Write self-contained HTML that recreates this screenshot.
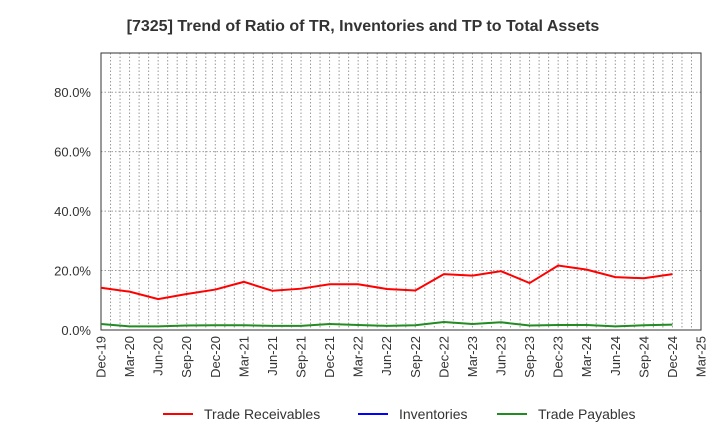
<!DOCTYPE html>
<html><head><meta charset="utf-8"><style>
body{margin:0;background:#fff;font-family:"Liberation Sans",sans-serif}
svg text{font-family:"Liberation Sans",sans-serif}
</style></head><body>
<svg id="c" width="720" height="440">
<text x="363" y="31" text-anchor="middle" font-size="16" font-weight="bold" fill="#333">[7325]  Trend of Ratio of TR, Inventories and TP to Total Assets</text>
</svg>
<script>
const categories=["Dec-19","Mar-20","Jun-20","Sep-20","Dec-20","Mar-21","Jun-21","Sep-21","Dec-21","Mar-22","Jun-22","Sep-22","Dec-22","Mar-23","Jun-23","Sep-23","Dec-23","Mar-24","Jun-24","Sep-24","Dec-24","Mar-25"];
const tradeReceivables=[14.2,12.9,10.4,12.1,13.6,16.2,13.2,13.9,15.4,15.4,13.8,13.3,18.8,18.3,19.8,15.8,21.7,20.3,17.8,17.4,18.8];
const inventories=[];
const tradePayables=[2.0,1.2,1.2,1.5,1.6,1.6,1.4,1.4,2.0,1.7,1.4,1.6,2.7,2.0,2.6,1.5,1.7,1.7,1.2,1.6,1.8];
const yTicks=[0,20,40,60,80];
const yMax=93.2;
const svg=document.getElementById('c');const NS='http://www.w3.org/2000/svg';
const L=101,R=701,T=53,B=330;
const x=i=>L+(R-L)*i/(categories.length-1);
const y=v=>B-(B-T)*v/yMax;
function mk(t,a,p){const e=document.createElementNS(NS,t);for(const k in a)e.setAttribute(k,a[k]);(p||svg).appendChild(e);return e;}
for(let m=1;m<(categories.length-1)*3;m++){const xx=L+(R-L)*m/((categories.length-1)*3);
const g=mk('line',{x1:xx,x2:xx,y1:T,y2:B,stroke:'#999','stroke-dasharray':'1.5,2','stroke-width':1});

}
yTicks.forEach(v=>{if(v>0){const g=mk('line',{x1:L,x2:R,y1:y(v),y2:y(v),stroke:'#999','stroke-dasharray':'1.5,2'});

}
const t=mk('text',{x:L-10,y:y(v)+5,'text-anchor':'end','font-size':13,fill:'#333'});t.textContent=v.toFixed(1)+'%';

});
categories.forEach((c,i)=>{const t=mk('text',{transform:`translate(${x(i)+4.5},${B+6}) rotate(-90)`,'text-anchor':'end','font-size':13,fill:'#333'});t.textContent=c;

});
const fr=mk('rect',{x:L,y:T,width:R-L,height:B-T,fill:'none',stroke:'#333','stroke-width':1});


function series(d,col,name){if(!d.length)return;const p=mk('polyline',{points:d.map((v,i)=>x(i)+','+y(v)).join(' '),fill:'none',stroke:col,'stroke-width':2});

}
series(tradePayables,'#228b22','trade-payables-line');
series(inventories,'#0000ff','inventories-line');
series(tradeReceivables,'#ff0000','trade-receivables-line');
const leg=[['Trade Receivables','#ff0000',163],['Inventories','#0000ff',358],['Trade Payables','#228b22',497]];
leg.forEach(([n,c,lx])=>{const g=mk('g',{});


mk('line',{x1:lx,x2:lx+30,y1:414,y2:414,stroke:c,'stroke-width':2},g);
const t=mk('text',{x:lx+41,y:419,'font-size':14,fill:'#333'},g);t.textContent=n;});
</script>
</body></html>
